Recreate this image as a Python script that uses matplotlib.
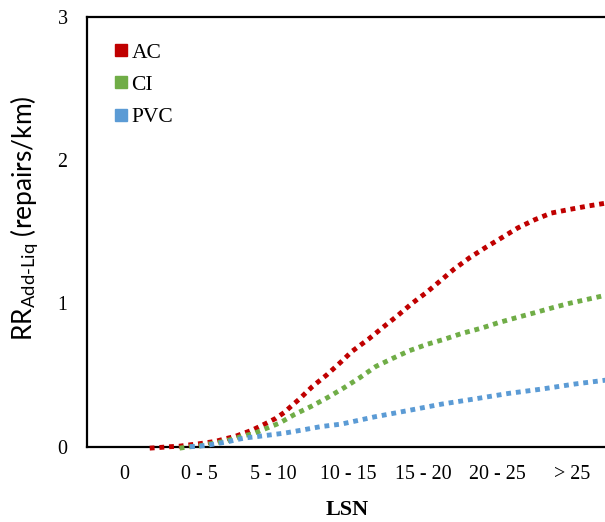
import matplotlib
matplotlib.use("Agg")
import matplotlib.pyplot as plt
from matplotlib.lines import Line2D

# Repair rate from liquefaction by pipe material, plotted against LSN class
categories = ["0", "0 - 5", "5 - 10", "10 - 15", "15 - 20", "20 - 25", "> 25"]

ac_x = [0.34, 0.48, 0.61, 0.73, 0.86, 0.98, 1.10, 1.22, 1.35, 1.48, 1.60, 1.71,
        1.81, 1.92, 2.03, 2.14, 2.23, 2.34, 2.52, 2.71, 2.90, 3.05, 3.27, 3.47,
        3.66, 3.85, 4.05, 4.24, 4.42, 4.63, 4.84, 5.05, 5.27, 5.50, 5.72, 5.96,
        6.22, 6.46, 6.55]
ac_y = [-0.01, -0.005, 0.0, 0.003, 0.012, 0.019, 0.028, 0.037, 0.055, 0.071,
        0.094, 0.115, 0.14, 0.168, 0.198, 0.238, 0.28, 0.33, 0.42, 0.50, 0.59,
        0.665, 0.75, 0.835, 0.914, 0.998, 1.077, 1.16, 1.24, 1.32, 1.39, 1.456,
        1.526, 1.584, 1.63, 1.655, 1.68, 1.70, 1.705]

ci_x = [0.74, 0.88, 1.00, 1.13, 1.25, 1.37, 1.49, 1.61, 1.73, 1.85, 2.08, 2.28,
        2.51, 2.72, 2.94, 3.15, 3.37, 3.59, 3.82, 4.06, 4.29, 4.52, 4.79, 5.01,
        5.25, 5.50, 5.74, 5.96, 6.22, 6.46, 6.55]
ci_y = [-0.01, 0.0, 0.005, 0.018, 0.028, 0.042, 0.058, 0.078, 0.09, 0.117,
        0.165, 0.225, 0.283, 0.342, 0.41, 0.48, 0.56, 0.615, 0.67, 0.715, 0.75,
        0.79, 0.828, 0.865, 0.90, 0.935, 0.97, 1.0, 1.03, 1.058, 1.068]

pvc_x = [0.88, 1.01, 1.13, 1.27, 1.39, 1.51, 1.63, 1.77, 1.92, 2.15, 2.39, 2.63,
         2.91, 3.35, 3.81, 4.25, 4.69, 5.15, 5.59, 6.03, 6.46, 6.55]
pvc_y = [0.0, 0.004, 0.012, 0.024, 0.035, 0.05, 0.062, 0.07, 0.08, 0.095, 0.117,
         0.14, 0.158, 0.208, 0.253, 0.297, 0.333, 0.372, 0.402, 0.437, 0.465,
         0.47]

series = [("AC", ac_x, ac_y, "#C00000"),
          ("CI", ci_x, ci_y, "#70AD47"),
          ("PVC", pvc_x, pvc_y, "#5B9BD5")]

serif = "Liberation Serif"
plt.rcParams["mathtext.fontset"] = "custom"
plt.rcParams["mathtext.rm"] = "Lato"
plt.rcParams["mathtext.it"] = "Lato:italic"

W, H = 605, 522
fig = plt.figure(figsize=(W / 100, H / 100), dpi=100)
ax_left, ax_right, ax_top, ax_bottom = 87, 609.5, 16.7, 446.7
ax = fig.add_axes([ax_left / W, 1 - ax_bottom / H,
                   (ax_right - ax_left) / W, (ax_bottom - ax_top) / H])

# dotted series sit above the axis line, as in the spreadsheet original
for name, xs, ys, col in series:
    ax.plot(xs, ys, color=col, linewidth=3.5, linestyle=(0, (1, 1)),
            dash_capstyle="butt", solid_capstyle="butt", clip_on=False,
            zorder=3)

ax.set_xlim(-0.5, 6.5)
ax.set_ylim(0, 3)
ax.set_xticks(range(len(categories)))
ax.set_xticklabels(categories, fontfamily=serif, fontsize=14.4)
ax.set_yticks([0, 1, 2, 3])
ax.set_yticklabels(["0", "1", "2", "3"], fontfamily=serif, fontsize=14.4)
ax.tick_params(axis="both", length=0)
ax.tick_params(axis="x", pad=13)
ax.tick_params(axis="y", pad=14)

for side in ("left", "bottom", "top"):
    ax.spines[side].set_linewidth(1.6)
    ax.spines[side].set_color("black")
ax.spines["right"].set_visible(False)

fig.text(347 / W, 1 - 510 / H, "LSN", fontfamily=serif, fontweight="bold",
         fontsize=16, ha="center", va="center")

fig.text(25 / W, 1 - 218.5 / H, r"RR$_{\text{Add-Liq}}$ (repairs/km)",
         fontfamily="Lato", fontsize=19, rotation=90, ha="center", va="center")

handles = [Line2D([], [], marker="s", linestyle="none", markersize=9,
                  markerfacecolor=c, markeredgecolor=c) for _, _, _, c in series]
ax.legend(handles, [s[0] for s in series], loc="upper left",
          bbox_to_anchor=(0.052, 0.94), frameon=False, borderpad=0,
          borderaxespad=0, handlelength=0.6, handletextpad=0.2,
          labelspacing=0.57, prop={"family": serif, "size": 15.5})

fig.savefig("out.png", dpi=100)
